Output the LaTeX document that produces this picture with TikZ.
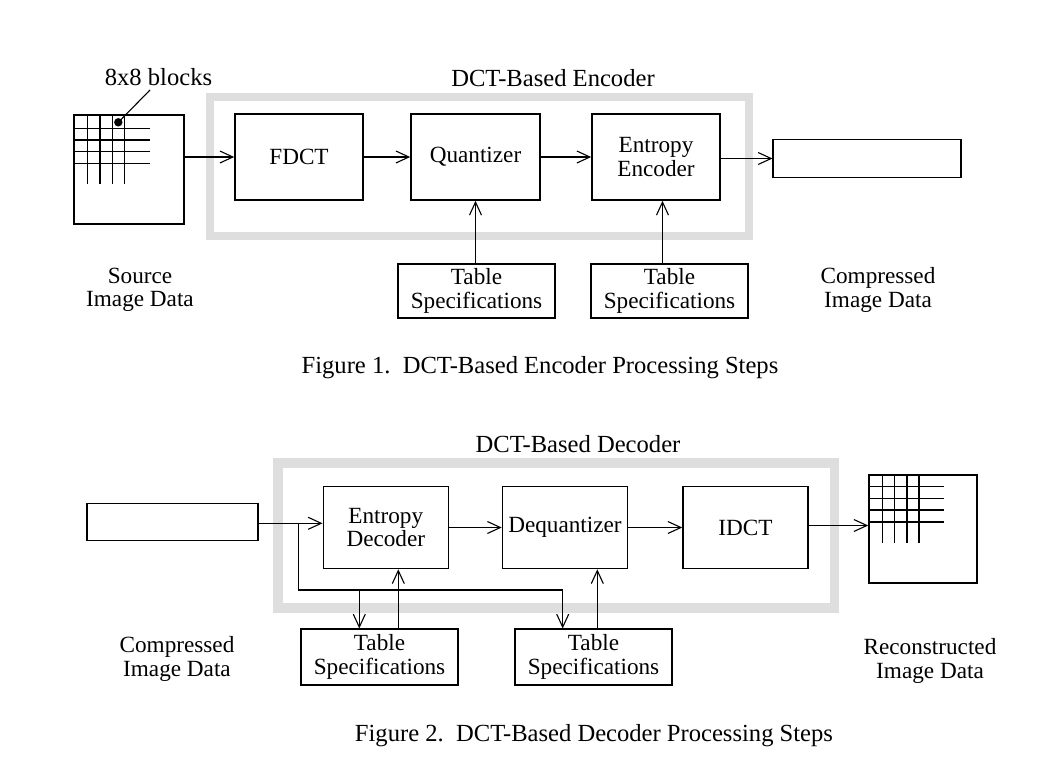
\documentclass[tikz,border=0pt]{standalone}
\usepackage{fontspec}
\setmainfont{Liberation Serif}
\usetikzlibrary{arrows.meta,calc}
\definecolor{framegray}{HTML}{DEDEDE}
\begin{document}
\begin{tikzpicture}[x=1pt,y=-1pt,
  font=\fontsize{23.2}{23.5}\selectfont,
  box/.style={draw=black,line width=1.6pt,inner sep=0pt,align=center},
  tbox/.style={draw=black,line width=1.1pt,inner sep=0pt,align=center,minimum width=157pt,minimum height=54pt},
  arr/.style={line width=1.1pt,-{Straight Barb[length=13pt,width=12pt,line width=1.1pt]}},
  ln/.style={line width=1.1pt},
  frame/.style={draw=framegray,line width=8pt},
  grid/.style={line width=1.5pt},
  lbl/.style={align=center,inner sep=0pt},
  big/.style={lbl,font=\fontsize{24.6}{26}\selectfont}]
\useasboundingbox (0,0) rectangle (1045,772);
% ---------------- Encoder ----------------
\draw[frame] (210,97) rectangle (749,236);
\node[big] (enct) at (553,78) {DCT-Based Encoder};
\node[box,minimum width=110pt,minimum height=109pt] (src) at (129,169.5) {};
\foreach \x in {87.7,100,112.3,124.7} \draw[grid] (\x,115) -- (\x,184);
\foreach \y in {128.3,140,151.7,163.3} \draw[grid] (74,\y) -- (150,\y);
\fill (118.3,122.3) circle (4.2pt);
\node[big] (blk) at (158.5,77) {8x8 blocks};
\coordinate (blkend) at (150,90);
\draw[ln] (118.3,122.3) -- (blkend);
\node[box,minimum width=128pt,minimum height=86pt] (fdct) at (299,157) {FDCT};
\node[box,minimum width=129pt,minimum height=86pt] (quant) at (475.5,157) {Quantizer};
\node[box,minimum width=128pt,minimum height=86pt] (ee) at (656,157) {Entropy\\Encoder};
\node[draw=black,line width=1.1pt,minimum width=188pt,minimum height=38pt,inner sep=0pt] (cout) at (867,158.5) {};
\node[tbox] (ts1) at (476.5,291) {Table\\Specifications};
\node[tbox] (ts2) at (669.5,291) {Table\\Specifications};
\node[lbl] (srcl) at (140,290) {Source\\Image Data};
\node[lbl] (cmpl) at (878,290) {Compressed\\Image Data};
\node[big] (cap1) at (540,368) {Figure 1.\ \ DCT-Based Encoder Processing Steps};
\draw[arr] (src.east |- fdct.west) -- (fdct.west);
\draw[arr] (fdct.east) -- (quant.west);
\draw[arr] (quant.east) -- (ee.west);
\draw[arr] (ee.east |- cout.west) -- (cout.west);
\draw[arr] (ts1.north -| quant.south) -- (quant.south);
\draw[arr] ([xshift=6.5pt]ee.south |- ts2.north) -- ([xshift=6.5pt]ee.south);
% ---------------- Decoder ----------------
\draw[frame,line width=9.5pt] (278,463) rectangle (834.7,608);
\node[big] (dect) at (578,444) {DCT-Based Decoder};
\node[draw=black,line width=1.1pt,minimum width=171pt,minimum height=37pt,inner sep=0pt] (cin) at (172.5,522) {};
\node[box,minimum width=125pt,minimum height=82pt] (ed) at (385.8,527.5) {Entropy\\Decoder};
\node[box,minimum width=125pt,minimum height=82pt] (deq) at (565,527.5) {Dequantizer};
\node[box,minimum width=125pt,minimum height=82pt] (idct) at (745.5,527.5) {IDCT};
\node[box,minimum width=108pt,minimum height=108pt] (rec) at (923,529) {};
\foreach \x in {882.3,894.5,906.8,919.1} \draw[grid] (\x,475) -- (\x,543.3);
\foreach \y in {486.7,498.5,510.2,521.9} \draw[grid] (869,\y) -- (944,\y);
\node[tbox,minimum height=56pt] (td1) at (379.5,657) {Table\\Specifications};
\node[tbox,minimum height=56pt] (td2) at (593.5,657) {Table\\Specifications};
\node[lbl] (cmpl2) at (177,659) {Compressed\\Image Data};
\node[lbl] (recl) at (930,661) {Reconstructed\\Image Data};
\node[big] (cap2) at (594,736) {Figure 2.\ \ DCT-Based Decoder Processing Steps};
\coordinate (br) at (298.3,523.3);
\coordinate (brlow) at (298.3,590);
\coordinate (brend) at (562.7,590);
\coordinate (brmid) at (359.3,590);
\coordinate (outy) at (0,525.5);
\draw[arr] (cin.east |- br) -- (ed.west |- br);
\draw[ln] (br) -- (brlow) -- (brend);
\draw[arr] (brend) -- (td2.north -| brend);
\draw[arr] (brmid) -- (td1.north -| brmid);
\draw[arr] ([xshift=18.8pt]td1.north) -- ([xshift=18.8pt]td1.north |- ed.south);
\draw[arr] ([xshift=32.3pt]deq.south |- td2.north) -- ([xshift=32.3pt]deq.south);
\draw[arr] (ed.east) -- (deq.west);
\draw[arr] (deq.east) -- (idct.west);
\draw[arr] (idct.east |- outy) -- (rec.west |- outy);
\end{tikzpicture}
\end{document}
